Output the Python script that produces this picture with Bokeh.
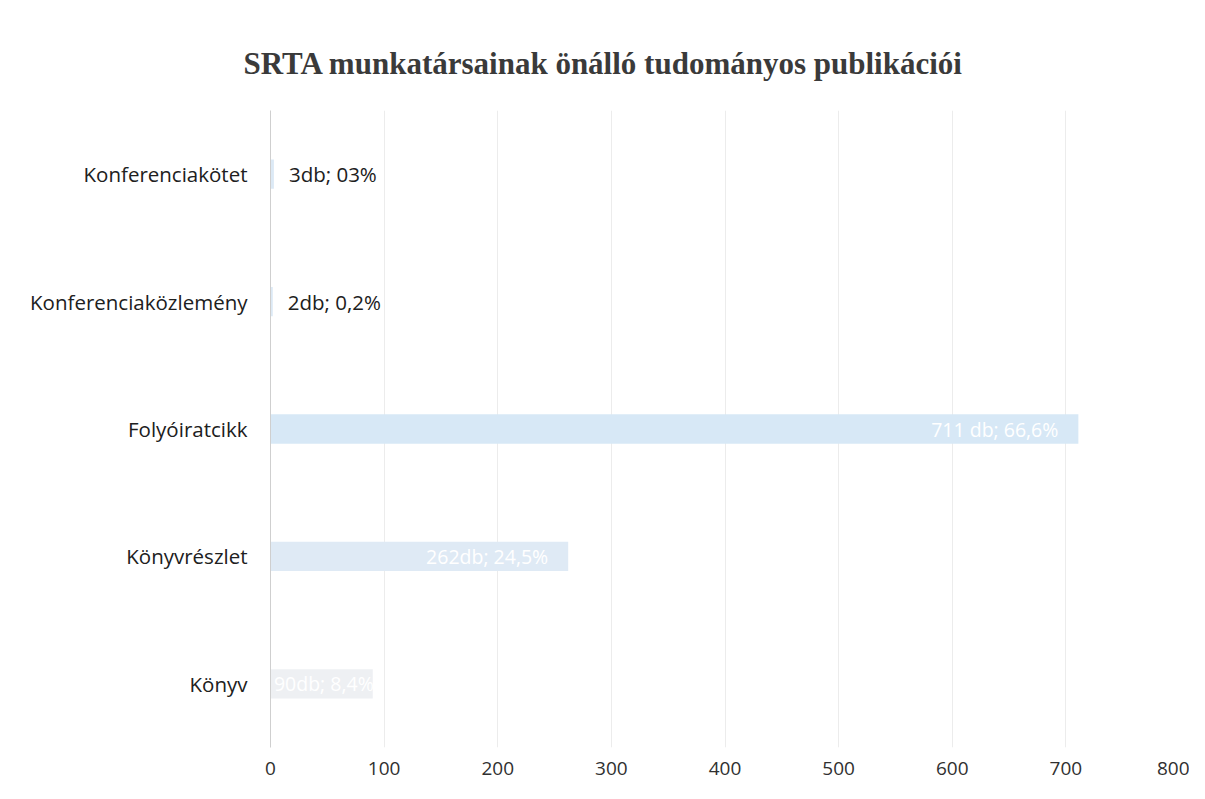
from bokeh.plotting import figure
from bokeh.models import ColumnDataSource, FactorRange, Range1d, SingleIntervalTicker, Title
from bokeh.core.properties import value
from bokeh.embed import file_html
from bokeh.resources import INLINE

categories = ["Könyv", "Könyvrészlet", "Folyóiratcikk", "Konferenciaközlemény", "Konferenciakötet"]
counts = [90, 262, 711, 2, 3]
labels = ["90db; 8,4%", "262db; 24,5%", "711 db; 66,6%", "2db; 0,2%", "3db; 03%"]
bar_colors = ["#eef0f3", "#dfeaf5", "#d7e8f6", "#dce9f5", "#dce9f5"]

src = ColumnDataSource(dict(cat=categories, val=counts, col=bar_colors))

p = figure(width=1189, height=783, output_backend="svg", toolbar_location=None,
           y_range=FactorRange(factors=categories, range_padding=0),
           x_range=Range1d(0, 800),
           min_border_left=270, min_border_right=10, min_border_top=110, min_border_bottom=36)
p.title = None
t = Title(text="SRTA munkatársainak önálló tudományos publikációi", align="left",
          text_font="Liberation Serif", text_font_size="31px", text_font_style="bold",
          text_color="#3a3a3a", offset=-27, standoff=59)
p.add_layout(t, "above")

p.hbar(y="cat", right="val", left=0, height=0.23, fill_color="col", line_color=None, source=src)

in_src = dict(x=[], y=[], t=[], off=[])
out_src = dict(x=[], y=[], t=[])
for c, v, l in zip(categories, counts, labels):
    if v > 50:
        in_src["x"].append(v); in_src["y"].append(c); in_src["t"].append(l)
        in_src["off"].append(-20 if v > 150 else 1)
    else:
        out_src["x"].append(v); out_src["y"].append(c); out_src["t"].append(l)

p.text(x="x", y="y", text="t", x_offset="off", source=ColumnDataSource(in_src),
       text_align="right", text_baseline="middle",
       text_color="white", text_font=value("Open Sans"), text_font_size="19.5px")
p.text(x="x", y="y", text="t", source=ColumnDataSource(out_src),
       text_align="left", text_baseline="middle", x_offset=15,
       text_color="#202020", text_font=value("Open Sans"), text_font_size="20.5px")

p.xaxis.ticker = SingleIntervalTicker(interval=100)
p.xaxis.axis_line_color = None
p.xaxis.major_tick_line_color = None
p.xaxis.minor_tick_line_color = None
p.xaxis.major_label_standoff = 8
p.xaxis.major_label_text_font = "Open Sans"
p.xaxis.major_label_text_font_size = "19px"
p.xaxis.major_label_text_color = "#303030"

p.yaxis.axis_line_color = "#cfcfcf"
p.yaxis.major_tick_line_color = None
p.yaxis.minor_tick_line_color = None
p.yaxis.major_label_standoff = 17
p.yaxis.major_label_text_font = "Open Sans"
p.yaxis.major_label_text_font_size = "20.5px"
p.yaxis.major_label_text_color = "#202020"

p.ygrid.grid_line_color = None
p.xgrid.grid_line_color = "#ececec"
p.outline_line_color = None

open("out.html", "w").write(file_html(p, INLINE))
